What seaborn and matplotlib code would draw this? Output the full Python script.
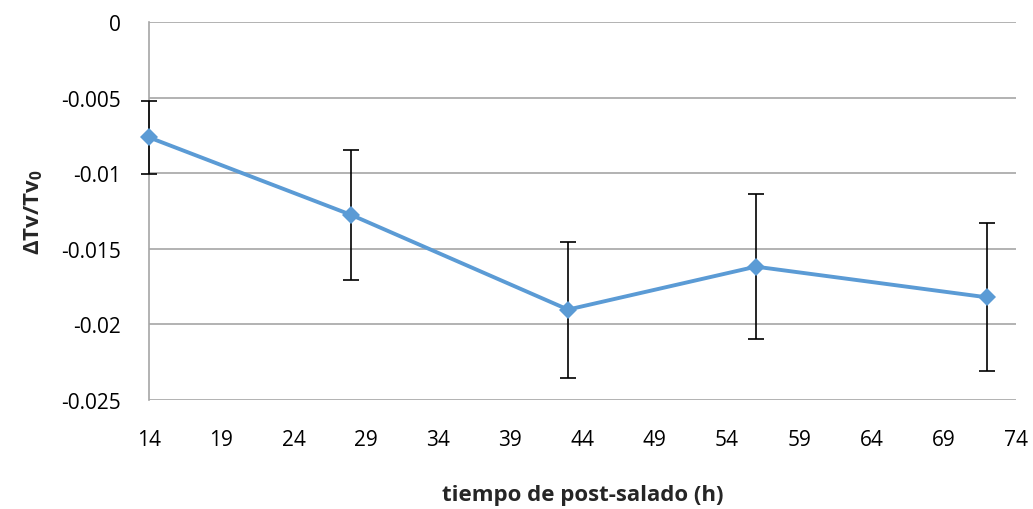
import matplotlib
matplotlib.use("Agg")
import matplotlib.pyplot as plt
import seaborn as sns
import pandas as pd

hours = [14, 28, 43, 56, 72]
ratio = [-0.00763, -0.01276, -0.01902, -0.01618, -0.01821]
err = [0.0024, 0.0043, 0.0045, 0.0048, 0.0049]
xticks = [14, 19, 24, 29, 34, 39, 44, 49, 54, 59, 64, 69, 74]
yticks = [0, -0.005, -0.01, -0.015, -0.02, -0.025]
yticklabels = ["0", "-0.005", "-0.01", "-0.015", "-0.02", "-0.025"]

sns.set_style("white")
plt.rcParams['font.family'] = ['Open Sans', 'DejaVu Sans']
plt.rcParams['mathtext.default'] = 'regular'

df = pd.DataFrame({"h": hours, "r": ratio})

fig = plt.figure(figsize=(10.33, 5.10), dpi=100)
ax = fig.add_axes([0.1442, 0.2137, 0.9835 - 0.1442, 0.9549 - 0.2137])

eb = ax.errorbar(hours, ratio, yerr=err, fmt='none', ecolor='black', elinewidth=1.2,
                 capsize=6, capthick=1.2, zorder=3)
for artist in list(eb.lines[1]) + list(eb.lines[2]):
    artist.set_clip_on(False)
    artist.set_zorder(3)
sns.lineplot(data=df, x="h", y="r", ax=ax, color="#5B9BD5", linewidth=2.8,
             marker="D", markersize=9, markeredgewidth=0, zorder=4, clip_on=False)

ax.set_xlim(14, 74)
ax.set_ylim(-0.025, 0)
ax.set_xticks(xticks)
ax.set_xticklabels([str(t) for t in xticks])
ax.set_yticks(yticks)
ax.set_yticklabels(yticklabels)
ax.yaxis.grid(True, color="#A6A6A6", linewidth=1.2)
ax.xaxis.grid(False)
for s in ["top", "right", "bottom"]:
    ax.spines[s].set_visible(False)
ax.spines["left"].set_color("#A6A6A6")
ax.spines["left"].set_linewidth(1.2)
ax.spines["left"].set_zorder(1)
ax.tick_params(axis='both', length=0, labelsize=15, colors='black')
ax.tick_params(axis='y', pad=20)
ax.tick_params(axis='x', pad=21)

ax.set_xlabel("tiempo de post-salado (h)", fontsize=16, fontweight='bold', labelpad=24)
ax.set_ylabel("ΔTv/Tv$_0$", fontsize=16, fontweight='bold', labelpad=12)

fig.savefig("out.png", dpi=100)
